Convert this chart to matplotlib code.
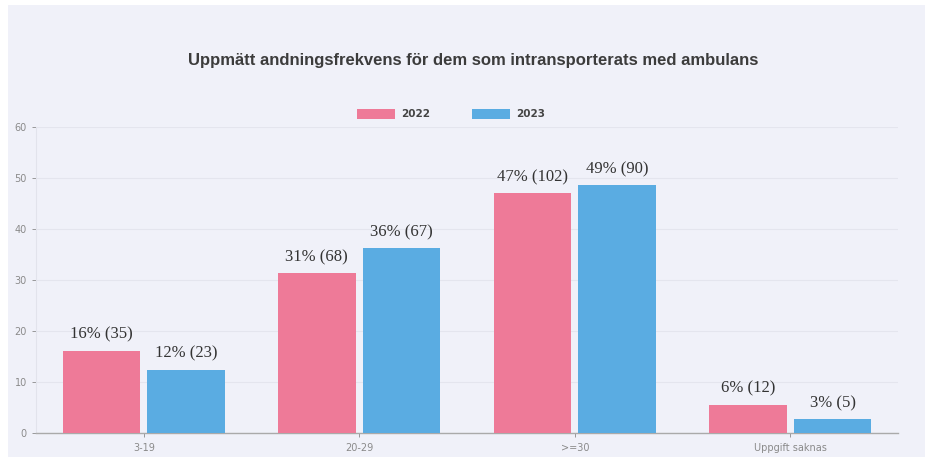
import matplotlib
matplotlib.use('agg')
import matplotlib.pyplot as plt
import numpy as np
from matplotlib.patches import Rectangle

# andningsfrekvens vid ankomst, andel (%) och antal
categories = ['3-19', '20-29', '>=30', 'Uppgift saknas']
pct_2022 = [16.1, 31.3, 47.0, 5.5]
n_2022 = [35, 68, 102, 12]
pct_2023 = [12.4, 36.2, 48.6, 2.7]
n_2023 = [23, 67, 90, 5]
yticks = [0, 10, 20, 30, 40, 50, 60]

pink = '#ee7a98'
blue = '#5aace2'
bg = '#f0f1f9'

fig = plt.figure(figsize=(9.25, 4.57), dpi=100)
fig.patch.set_facecolor('white')
fig.patches.append(Rectangle((8/925, 0), 1, 1 - 5/457, transform=fig.transFigure,
                             facecolor=bg, edgecolor='none', zorder=-1))

ax = fig.add_axes([36/925, 24/457, 862/925, 306/457])
ax.set_zorder(1)
ax.set_facecolor(bg)

x = np.arange(len(categories))
w = 0.36
off = 0.197
b1 = ax.bar(x - off, pct_2022, w, color=pink, zorder=3)
b2 = ax.bar(x + off, pct_2023, w, color=blue, zorder=3)

for bars, pcts, ns in [(b1, pct_2022, n_2022), (b2, pct_2023, n_2023)]:
    for r, p, n in zip(bars, pcts, ns):
        ax.text(r.get_x() + r.get_width() / 2, p + 1.6, f'{p:.0f}% ({n})',
                ha='center', va='bottom', fontsize=12, family='Liberation Serif',
                color='#333333', zorder=4)

ax.set_xlim(-0.5, 3.5)
ax.set_ylim(0, 60)
ax.set_yticks(yticks)
ax.set_xticks(x)
ax.set_xticklabels(categories)
ax.tick_params(axis='both', labelsize=7, colors='#8a8a8a', length=3, width=0.6)
ax.tick_params(axis='x', pad=4)
ax.grid(axis='y', color='#e4e5ee', linewidth=0.8, zorder=1)
for s in ['top', 'right']:
    ax.spines[s].set_visible(False)
ax.spines['left'].set_color('#e2e3ec')
ax.spines['bottom'].set_color('#aaaaaa')
ax.spines['bottom'].set_linewidth(1)

fig.text(473/925, 1 - 60/457, 'Uppmätt andningsfrekvens för dem som intransporterats med ambulans',
         ha='center', va='center', fontsize=12, fontweight='bold',
         family='Liberation Sans', color='#3c3c3c')

# förklaring
for x0, lbl, c in [(357, '2022', pink), (472, '2023', blue)]:
    fig.patches.append(Rectangle((x0/925, 1 - 119/457), 38/925, 10/457,
                                 transform=fig.transFigure, facecolor=c,
                                 edgecolor='none', zorder=2))
    fig.text((x0 + 44)/925, 1 - 114/457, lbl, ha='left', va='center',
             fontsize=7.5, fontweight='bold', color='#444444')

fig.savefig('out.png', dpi=100, facecolor=fig.get_facecolor())
